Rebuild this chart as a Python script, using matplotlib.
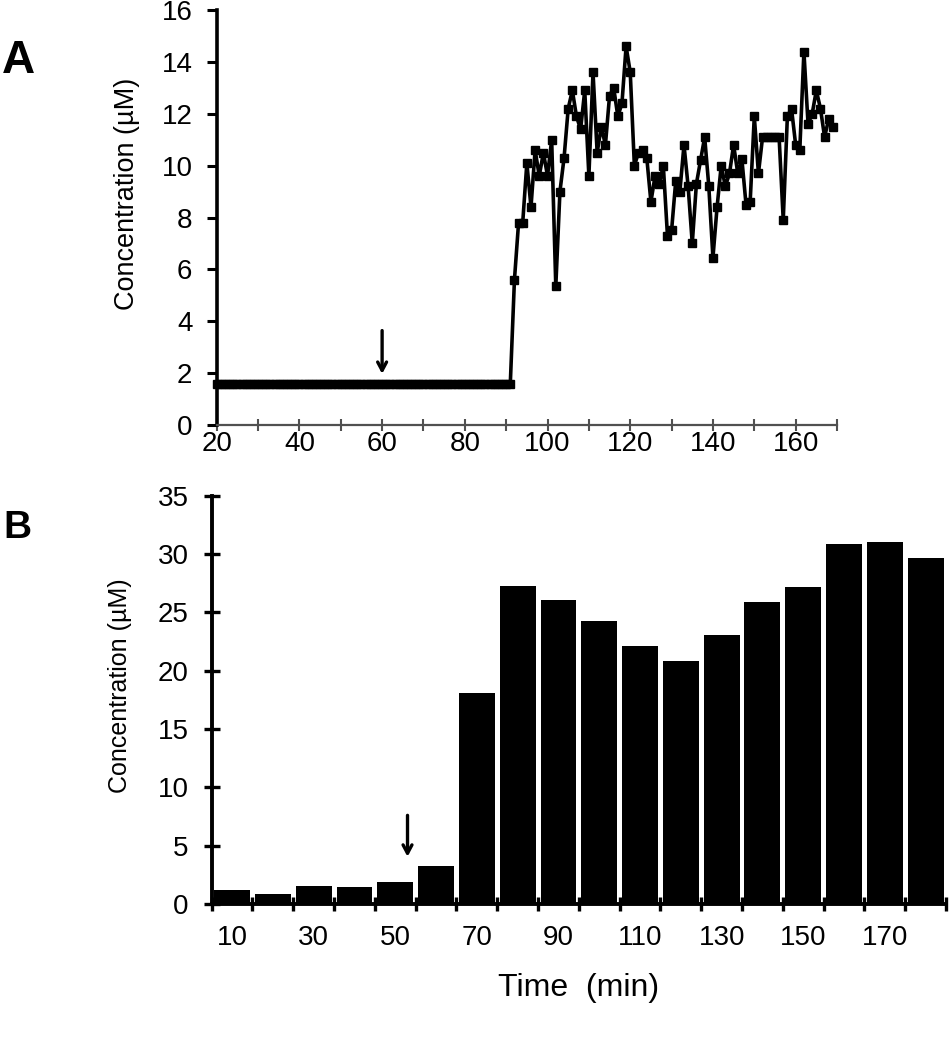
import numpy as np
import matplotlib
matplotlib.use("Agg")
import matplotlib.pyplot as plt
from matplotlib.ticker import FixedLocator

plt.rcParams['font.family'] = ['Liberation Sans', 'DejaVu Sans']

# ---------------- Data: panel A ----------------
a_baseline_value = 1.6
a_baseline_times = list(range(20, 92))
a_active_values = [
    5.6, 7.8, 7.8, 10.1, 8.4, 10.6, 9.6, 10.5, 9.6, 11.0,      # 92-101
    5.35, 9.0, 10.3, 12.2, 12.9, 11.9, 11.4, 12.9, 9.6, 13.6,  # 102-111
    10.5, 11.5, 10.8, 12.7, 13.0, 11.9, 12.4, 14.6, 13.6, 10.0, # 112-121
    10.5, 10.6, 10.3, 8.6, 9.6, 9.3, 10.0, 7.3, 7.5, 9.4,      # 122-131
    9.0, 10.8, 9.2, 7.0, 9.3, 10.2, 11.1, 9.2, 6.45, 8.4,      # 132-141
    10.0, 9.2, 9.7, 10.8, 9.7, 10.25, 8.5, 8.6, 11.9, 9.7,     # 142-151
    11.1, 11.1, 11.1, 11.1, 11.1, 7.9, 11.9, 12.2, 10.8, 10.6, # 152-161
    14.4, 11.6, 12.0, 12.9, 12.2, 11.1, 11.8, 11.5,            # 162-169
]
a_active_times = list(range(92, 92 + len(a_active_values)))
a_times = a_baseline_times + a_active_times
a_values = [a_baseline_value] * len(a_baseline_times) + a_active_values

a_xticks = list(range(20, 171, 10))
a_xticklabels = [str(t) if t % 20 == 0 and t <= 160 else '' for t in a_xticks]
a_yticks = list(range(0, 17, 2))
a_arrow_x = 60

# ---------------- Data: panel B ----------------
b_categories = ['10', '20', '30', '40', '50', '60', '70', '80', '90', '100',
                '110', '120', '130', '140', '150', '160', '170', '180']
b_values = [1.2, 0.9, 1.55, 1.45, 1.85, 3.3, 18.05, 27.3, 26.05, 24.3,
            22.1, 20.85, 23.1, 25.9, 27.2, 30.9, 31.05, 29.65]
b_yticks = list(range(0, 36, 5))
b_arrow_pos = 4.3

# ---------------- Figure ----------------
W, H = 949, 1050
fig = plt.figure(figsize=(W / 100, H / 100), dpi=100)

def frac_rect(x0, y_top, x1, y_bot):
    return [x0 / W, 1 - y_bot / H, (x1 - x0) / W, (y_bot - y_top) / H]

TICK_FS = 20

# ----- Panel A -----
axA = fig.add_axes(frac_rect(216.7, 10, 837, 425))
axA.plot(a_times, a_values, color='black', lw=2.6, marker='s', ms=6.3,
         markeredgecolor='black', markerfacecolor='black', clip_on=False, zorder=3)
axA.set_xlim(20, 170)
axA.set_ylim(0, 16)
for s in ['top', 'right']:
    axA.spines[s].set_visible(False)
axA.spines['left'].set_linewidth(2.6)
axA.spines['left'].set_color('black')
axA.spines['bottom'].set_linewidth(1.6)
axA.spines['bottom'].set_color('#505050')
axA.xaxis.set_major_locator(FixedLocator(a_xticks))
axA.set_xticklabels(a_xticklabels)
axA.yaxis.set_major_locator(FixedLocator(a_yticks))
axA.tick_params(axis='x', direction='inout', length=9, width=1.5, color='#505050',
                labelsize=TICK_FS, pad=0)
axA.tick_params(axis='y', direction='out', length=7.5, width=2.2, color='black',
                labelsize=TICK_FS, pad=10)
axA.set_ylabel('Concentration (µM)', fontsize=19.5)
axA.yaxis.set_label_coords((140 - 216.7) / 620.3, 0.558)
axA.annotate('', xy=(a_arrow_x, 1.97), xytext=(a_arrow_x, 3.64),
             arrowprops=dict(arrowstyle='->,head_length=0.6,head_width=0.32',
                             color='black', lw=2.4, shrinkA=0, shrinkB=0))

# ----- Panel B -----
axB = fig.add_axes(frac_rect(211.7, 495.7, 946, 904))
xpos = np.arange(len(b_categories))
axB.bar(xpos, b_values, width=0.88, color='black', edgecolor='none', zorder=2)
axB.set_xlim(-0.5, len(b_categories) - 0.5)
axB.set_ylim(0, 35)
for s in ['top', 'right']:
    axB.spines[s].set_visible(False)
axB.spines['left'].set_linewidth(2.8)
axB.spines['bottom'].set_linewidth(2.8)
axB.set_xticks(xpos[::2])
axB.set_xticklabels(b_categories[::2])
axB.set_xticks(np.arange(-0.5, len(b_categories)), minor=True)
axB.tick_params(axis='x', which='major', length=0, labelsize=TICK_FS, pad=15)
axB.tick_params(axis='x', which='minor', direction='inout', length=10, width=2.4)
axB.set_yticks(b_yticks)
axB.tick_params(axis='y', direction='inout', length=11.5, width=2.4,
                labelsize=TICK_FS, pad=11)
axB.set_ylabel('Concentration (µM)', fontsize=18)
axB.yaxis.set_label_coords((131.7 - 211.7) / 734.3, 0.535)
axB.set_xlabel('Time  (min)', fontsize=23, labelpad=16)
axB.annotate('', xy=(b_arrow_pos, 4.05), xytext=(b_arrow_pos, 7.6),
             arrowprops=dict(arrowstyle='->,head_length=0.6,head_width=0.32',
                             color='black', lw=2.4, shrinkA=0, shrinkB=0))

# Panel letters
fig.text(1.7 / W, 1 - 73 / H, 'A', fontsize=33, fontweight='bold',
         ha='left', va='baseline')
fig.text(3.3 / W, 1 - 538 / H, 'B', fontsize=28, fontweight='bold',
         ha='left', va='baseline')

fig.savefig('out.png', dpi=100)
